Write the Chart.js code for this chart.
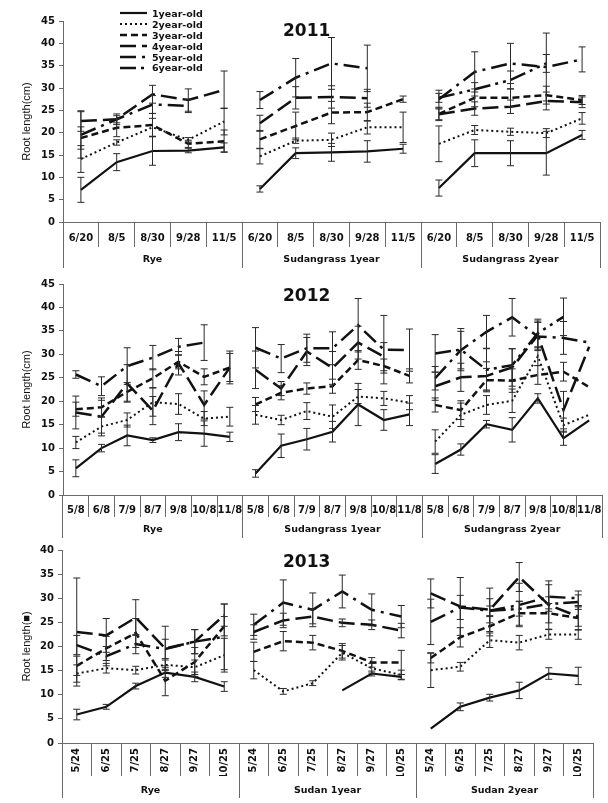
<!DOCTYPE html>
<html>
<head>
<meta charset="utf-8">
<script src="https://cdn.jsdelivr.net/npm/chart.js@4.4.0/dist/chart.umd.min.js"></script>
<style>
  body { margin:0; background:#fff; width:608px; height:803px; position:relative; overflow:hidden; }
  canvas { position:absolute; left:0; }
  .yr { position:absolute; font:bold 17px "DejaVu Sans"; line-height:17px; color:#111; }
  #legend { position:absolute; left:120px; top:8px; font:bold 9.5px "DejaVu Sans"; color:#111; }
  #legend div { height:10.9px; display:flex; align-items:center; }
  #legend svg { width:32px; height:8px; flex:none; }
</style>
</head>
<body>
<canvas id="c2011" width="608" height="270" style="top:0"></canvas>
<canvas id="c2012" width="608" height="270" style="top:270px"></canvas>
<canvas id="c2013" width="608" height="263" style="top:540px"></canvas>
<div class="yr" style="left:283px;top:22px">2011</div>
<div class="yr" style="left:283px;top:287px">2012</div>
<div class="yr" style="left:283px;top:553px">2013</div>
<div id="legend"></div>

<script>
// ---- data (means and +/- error) ----
const seriesNames = ['1year-old','2year-old','3year-old','4year-old','5year-old','6year-old'];

const dates2011  = ['6/20','8/5','8/30','9/28','11/5'];
const groups2011 = ['Rye','Sudangrass 1year','Sudangrass 2year'];
const m11_1 = [7.2,13.4,15.9,16.0,16.7, 7.4,15.4,15.6,15.8,16.4, 7.6,15.4,15.4,15.4,19.5];
const e11_1 = [2.8,1.9,3.2,0.5,1.0, 0.7,1.2,2.0,2.4,1.0, 1.8,3.0,2.8,4.9,1.0];
const m11_2 = [14.1,17.8,21.2,18.4,22.5, 14.7,18.2,18.4,21.2,21.2, 17.5,20.6,20.2,19.9,23.2];
const e11_2 = [3.0,0.6,2.0,0.5,3.0, 1.7,0.6,1.5,1.5,3.4, 4.0,1.0,0.8,1.0,1.3];
const m11_3 = [18.8,21.1,21.7,17.5,18.1, 18.5,21.5,24.5,24.6,27.5, 24.2,27.8,27.8,28.4,27.3];
const e11_3 = [2.5,2.0,2.6,0.8,2.5, 2.0,3.1,2.5,2.0,0.7, 1.5,2.0,2.0,2.0,1.0];
const m11_4 = [22.6,23.0,28.6,27.3,29.6, 22.1,27.8,28.0,27.7,null, 24.1,25.4,25.8,27.1,26.8];
const e11_4 = [2.3,1.2,2.0,2.5,4.2, 1.8,2.5,2.5,2.0,0, 1.2,1.5,1.5,2.0,1.2];
const m11_5 = [19.5,23.0,26.3,26.0,null, 27.3,32.3,35.5,34.4,null, 27.5,33.6,35.5,34.7,36.4];
const e11_5 = [5.2,0.8,2.0,1.5,0, 1.9,4.3,5.8,5.2,0, 2.0,4.5,4.5,7.6,2.8];
const m11_6 = [null,null,null,null,null, null,null,null,null,null, 27.8,29.7,31.8,35.5,null];
const e11_6 = [0,0,0,0,0, 0,0,0,0,0, 1.0,1.5,2.0,2.0,0];

const dates2012  = ['5/8','6/8','7/9','8/7','9/8','10/8','11/8'];
const groups2012 = ['Rye','Sudangrass 1year','Sudangrass 2year'];
const m12_1 = [5.7,10.0,12.7,11.7,13.4,13.1,12.4, 4.6,10.5,11.9,13.5,19.3,16.0,17.2, 6.6,9.7,15.1,13.9,20.6,12.1,15.9];
const e12_1 = [1.8,0.8,2.2,0.5,1.8,2.7,1.0, 0.8,2.5,2.3,2.2,4.5,2.2,2.4, 2.0,1.2,0.8,2.6,1.0,1.5,0];
const m12_2 = [11.2,14.6,16.0,19.8,19.4,16.3,16.7, 17.1,16.0,17.9,16.7,21.0,20.6,19.7, 11.4,17.1,19.2,20.1,29.6,14.9,17.1];
const e12_2 = [1.3,2.0,1.5,3.0,2.2,1.5,2.0, 2.0,1.0,1.8,2.5,1.5,1.5,1.5, 2.5,2.5,2.0,2.5,2.0,1.5,0];
const m12_3 = [18.3,18.7,22.0,24.9,28.4,25.2,27.2, 19.3,21.8,22.7,23.2,28.8,27.5,25.4, 19.2,18.1,24.5,24.4,25.6,26.3,23.0];
const e12_3 = [1.5,2.0,2.0,2.0,1.5,1.7,3.5, 1.5,1.5,1.2,1.5,2.0,1.5,1.5, 1.5,2.0,2.5,2.5,2.0,2.0,0];
const m12_4 = [17.6,16.7,23.8,18.0,28.1,19.2,27.2, 26.7,22.7,30.6,27.1,32.5,29.5,null, 23.2,25.1,25.4,27.2,34.1,18.1,31.6];
const e12_4 = [3.5,3.5,4.0,3.0,2.5,3.0,3.0, 4.0,1.5,3.0,3.5,3.5,3.0,0, 3.0,3.0,3.0,4.0,3.0,4.0,0];
const m12_5 = [25.7,23.2,27.5,29.3,31.6,32.5,null, 31.4,29.1,31.3,31.3,36.2,31.0,30.9, 24.9,30.9,34.8,37.9,33.8,33.5,32.5];
const e12_5 = [0.8,2.0,3.9,2.6,1.8,3.8,0, 4.3,3.0,3.0,3.5,5.7,7.3,4.5, 2.5,4.0,3.5,4.0,3.0,3.5,0];
const m12_6 = [null,null,null,null,null,null,null, null,null,null,null,null,null,null, 30.2,31.0,26.7,27.7,34.5,38.0,null];
const e12_6 = [0,0,0,0,0,0,0, 0,0,0,0,0,0,0, 4.0,4.5,4.5,3.5,3.0,4.0,0];

const dates2013  = ['5/24','6/25','7/25','8/27','9/27','10/25'];
const groups2013 = ['Rye','Sudan 1year','Sudan 2year'];
const m13_1 = [5.9,7.5,11.8,14.6,13.7,11.7, null,null,null,10.9,14.4,13.7, 3.0,7.5,9.4,10.9,14.4,13.9];
const e13_1 = [1.1,0.5,0.6,1.0,1.0,1.0, 0,0,0,0,0.5,0.5, 0,0.8,0.7,1.7,1.2,1.8];
const m13_2 = [14.4,15.5,15.1,16.2,15.7,18.2, 15.1,10.7,12.4,18.7,15.5,14.1, 15.1,15.8,21.3,20.8,22.5,22.5];
const e13_2 = [1.8,1.0,0.8,1.0,1.5,3.5, 1.8,0.6,0.5,1.5,1.0,1.0, 3.6,0.9,1.5,1.5,1.0,1.0];
const m13_3 = [16.0,19.6,22.8,12.9,16.8,24.2, 18.9,21.1,20.8,19.1,16.7,16.7, 17.6,21.9,24.2,26.9,26.9,25.9];
const e13_3 = [2.0,2.5,3.0,3.1,3.0,2.0, 2.0,2.0,1.5,1.5,1.0,2.5, 1.0,2.0,2.0,2.5,2.0,2.5];
const m13_4 = [23.0,22.3,26.0,19.6,21.0,26.5, 23.0,25.4,26.2,24.9,24.5,23.3, 31.0,28.3,27.6,34.4,28.6,26.2];
const e13_4 = [11.2,3.5,3.7,4.6,2.5,2.3, 1.5,1.5,1.5,0.8,1.0,1.5, 3.0,6.0,4.5,3.0,5.0,2.0];
const m13_5 = [20.3,18.0,20.5,19.5,21.0,22.0, 24.5,29.1,27.6,31.4,27.6,26.2, 25.1,28.1,27.4,28.6,30.3,30.0];
const e13_5 = [2.0,2.0,2.0,2.0,2.5,6.8, 2.2,4.7,3.5,3.4,3.3,2.3, 4.7,2.5,2.5,4.5,2.5,1.5];
const m13_6 = [null,null,null,null,null,null, null,null,null,null,null,null, null,null,27.4,27.8,28.8,29.2];
const e13_6 = [0,0,0,0,0,0, 0,0,0,0,0,0, 0,0,1.0,1.5,1.5,1.5];

// line looks, one per age class
const lineStyles = [
  { dash: [],                w: 2.2 },
  { dash: [2, 3],            w: 2   },
  { dash: [7, 4],            w: 2.5 },
  { dash: [16, 6],           w: 2.5 },
  { dash: [16, 6, 3, 6],     w: 2.5 },
  { dash: [16, 5, 3, 5, 3, 5], w: 2.5 }
];

const tickFont = { family: 'DejaVu Sans', size: 10, weight: 'bold' };
const axisGray = '#6a6a6a';

// vertical error bars, positioned with the chart's own scales
const errorBars = {
  id: 'errorBars',
  afterDatasetsDraw(chart) {
    const { ctx } = chart;
    const y = chart.scales.y;
    chart.data.datasets.forEach((ds, i) => {
      const meta = chart.getDatasetMeta(i);
      ds.errors.forEach((e, j) => {
        const v = ds.data[j];
        if (v == null || !e) return;
        const x = meta.data[j].x;
        const t = y.getPixelForValue(v + e), b = y.getPixelForValue(v - e);
        ctx.save();
        ctx.strokeStyle = '#2a2a2a';
        ctx.lineWidth = 1;
        ctx.beginPath();
        ctx.moveTo(x, t); ctx.lineTo(x, b);
        ctx.moveTo(x - 3.5, t); ctx.lineTo(x + 3.5, t);
        ctx.moveTo(x - 3.5, b); ctx.lineTo(x + 3.5, b);
        ctx.stroke();
        ctx.restore();
      });
    });
  }
};

function makePanel(id, dates, groups, means, errs, o) {
  const n = dates.length;
  const labels = [];
  groups.forEach(() => dates.forEach(d => labels.push(d)));
  const datasets = means.map((m, k) => ({
    label: seriesNames[k],
    data: m,
    errors: errs[k],
    borderColor: '#111',
    borderWidth: lineStyles[k].w,
    borderDash: lineStyles[k].dash,
    pointRadius: 0,
    fill: false,
    tension: 0,
    segment: {
      // no line between the last date of one crop and the first of the next
      borderColor: c => Math.floor(c.p0DataIndex / n) !== Math.floor(c.p1DataIndex / n) ? 'rgba(0,0,0,0)' : undefined
    }
  }));

  return new Chart(document.getElementById(id), {
    type: 'line',
    data: { labels, datasets },
    plugins: [errorBars],
    options: {
      responsive: false,
      animation: false,
      layout: { padding: o.pad },
      plugins: { legend: { display: false }, tooltip: { enabled: false } },
      scales: {
        x: {
          type: 'category', offset: true, weight: 0,
          grid: { offset: true, drawOnChartArea: false, tickLength: o.rowH, color: axisGray },
          border: { color: axisGray },
          ticks: { font: tickFont, color: '#111', padding: o.tickPad, autoSkip: false,
                   maxRotation: o.rot, minRotation: o.rot },
          afterFit: s => { s.height = o.rowH; }
        },
        x2: {
          type: 'category', labels: groups, position: 'bottom', offset: true, weight: 1,
          grid: { offset: true, drawOnChartArea: false, tickLength: o.grpH, color: axisGray },
          border: { display: false },
          ticks: { font: { family: 'DejaVu Sans', size: 9.5, weight: 'bold' }, color: '#111', padding: o.grpPad, maxRotation: 0 },
          afterFit: s => { s.height = o.grpH; }
        },
        y: {
          min: 0, max: o.max,
          ticks: { stepSize: 5, font: tickFont, color: '#111', padding: 4 },
          grid: { drawOnChartArea: false, tickLength: 4, color: axisGray },
          border: { color: axisGray },
          title: { display: true, text: o.yTitle, padding: 0, color: '#111',
                   font: { family: 'Liberation Sans Narrow, Liberation Sans', size: 11 } },
          afterFit: s => { s.width = o.yW; }
        }
      }
    }
  });
}

makePanel('c2011', dates2011, groups2011,
  [m11_1, m11_2, m11_3, m11_4, m11_5, m11_6], [e11_1, e11_2, e11_3, e11_4, e11_5, e11_6],
  { pad: { top: 21, left: 20, right: 8, bottom: 2 }, yW: 43, rowH: 25, grpH: 21, tickPad: -15, grpPad: -14,
    rot: 0, max: 45, yTitle: 'Root length(cm)' });

makePanel('c2012', dates2012, groups2012,
  [m12_1, m12_2, m12_3, m12_4, m12_5, m12_6], [e12_1, e12_2, e12_3, e12_4, e12_5, e12_6],
  { pad: { top: 14, left: 20, right: 6, bottom: 2 }, yW: 43, rowH: 22, grpH: 21, tickPad: -13, grpPad: -14,
    rot: 0, max: 45, yTitle: 'Root length(cm)' });

makePanel('c2013', dates2013, groups2013,
  [m13_1, m13_2, m13_3, m13_4, m13_5, m13_6], [e13_1, e13_2, e13_3, e13_4, e13_5, e13_6],
  { pad: { top: 8, left: 20, right: 15, bottom: 5 }, yW: 42, rowH: 33, grpH: 22, tickPad: -28, grpPad: -13,
    rot: 90, max: 40, yTitle: 'Root length(■)' });

// legend (2011 panel only), line samples use the same dash patterns
const legend = document.getElementById('legend');
seriesNames.forEach((name, k) => {
  const row = document.createElement('div');
  row.innerHTML = `<svg viewBox="0 0 32 8"><line x1="0" y1="4" x2="27" y2="4" stroke="#111"
    stroke-width="${lineStyles[k].w}" stroke-dasharray="${lineStyles[k].dash.join(',') || 'none'}"/></svg><span>${name}</span>`;
  legend.appendChild(row);
});
</script>
</body>
</html>
